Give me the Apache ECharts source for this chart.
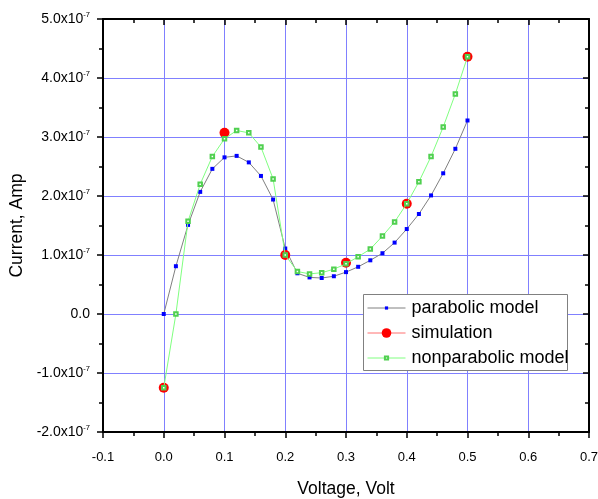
<!DOCTYPE html>
<html>
<head>
<meta charset="utf-8">
<script src="https://cdn.jsdelivr.net/npm/echarts@6/dist/echarts.min.js"></script>
<style>
html,body{margin:0;padding:0;background:#fff;}
#chart{width:598px;height:499px;}
</style>
</head>
<body>
<div id="chart"></div>
<script>
// Voltage (V) sample points of the model curves
const voltage = [0.00, 0.02, 0.04, 0.06, 0.08, 0.10, 0.12, 0.14, 0.16, 0.18, 0.20, 0.22, 0.24,
                 0.26, 0.28, 0.30, 0.32, 0.34, 0.36, 0.38, 0.40, 0.42, 0.44, 0.46, 0.48, 0.50];
// Currents in units of 1e-7 A
const parabolic = [0.00, 0.81, 1.51, 2.07, 2.46, 2.655, 2.68, 2.57, 2.34, 1.94, 1.11, 0.69, 0.62,
                   0.61, 0.64, 0.71, 0.80, 0.91, 1.03, 1.21, 1.44, 1.695, 2.01, 2.385, 2.80, 3.28];
const nonparabolic = [-1.25, 0.00, 1.57, 2.20, 2.67, 2.97, 3.11, 3.07, 2.83, 2.29, 1.00, 0.72, 0.68,
                      0.70, 0.76, 0.85, 0.97, 1.10, 1.32, 1.56, 1.87, 2.24, 2.67, 3.17, 3.73, 4.36];
const simVoltage = [0.0, 0.1, 0.2, 0.3, 0.4, 0.5];
const simulation = [-1.25, 3.07, 1.00, 0.87, 1.87, 4.36];
const currentExponent = -7;
const xTicks = [-0.1, 0.0, 0.1, 0.2, 0.3, 0.4, 0.5, 0.6, 0.7];
const yTicks = [-2, -1, 0, 1, 2, 3, 4, 5];

const FONT = "'Liberation Sans', Arial, sans-serif";
const pair = (xs, ys) => xs.map((x, i) => [x, ys[i]]);

const chart = echarts.init(document.getElementById('chart'), null, {renderer: 'canvas'});

const frameLine = {show: true, onZero: false, lineStyle: {color: '#000', width: 2}};
const gridLine = {show: true, lineStyle: {color: '#8080ff', width: 1}};
const tickStyle = {color: '#000', width: 1.5};

const option = {
  backgroundColor: '#fff',
  animation: false,
  grid: {left: 103, right: 9, top: 19, bottom: 67, containLabel: false, outerBoundsMode: 'none'},
  xAxis: [{
    type: 'value', min: xTicks[0], max: xTicks[xTicks.length - 1], interval: 0.1,
    position: 'bottom',
    axisLine: frameLine,
    axisTick: {show: true, inside: false, length: 6, lineStyle: tickStyle},
    minorTick: {show: true, splitNumber: 2, length: 4, lineStyle: tickStyle},
    splitLine: gridLine,
    axisLabel: {margin: 19, fontSize: 13, color: '#000', fontFamily: FONT,
      formatter: v => v.toFixed(1)},
    name: 'Voltage, Volt', nameLocation: 'middle', nameGap: 48,
    nameTextStyle: {fontSize: 17.5, color: '#000', fontFamily: FONT}
  }, {
    type: 'value', min: xTicks[0], max: xTicks[xTicks.length - 1], interval: 0.1,
    position: 'top',
    axisLine: frameLine,
    axisTick: {show: true, inside: true, length: 6, lineStyle: tickStyle},
    minorTick: {show: true, splitNumber: 2, length: 4, lineStyle: tickStyle},
    splitLine: {show: false},
    axisLabel: {show: false}
  }],
  yAxis: [{
    type: 'value', min: yTicks[0], max: yTicks[yTicks.length - 1], interval: 1,
    position: 'left',
    axisLine: frameLine,
    axisTick: {show: true, inside: false, length: 6, lineStyle: tickStyle},
    minorTick: {show: true, splitNumber: 2, length: 4, lineStyle: tickStyle},
    splitLine: gridLine,
    axisLabel: {
      margin: 13, color: '#000', fontFamily: FONT,
      formatter: v => v === 0 ? '{b|0.0}' : '{b|' + v.toFixed(1) + 'x10}{s|' + currentExponent + '}',
      rich: {
        b: {fontSize: 14, color: '#000', fontFamily: FONT},
        s: {fontSize: 7.5, color: '#000', fontFamily: FONT, padding: [0, 0, 9, 0]}
      }
    },
    name: 'Current, Amp', nameLocation: 'middle', nameGap: 77, nameRotate: 90,
    nameTextStyle: {fontSize: 17.5, color: '#000', fontFamily: FONT}
  }, {
    type: 'value', min: yTicks[0], max: yTicks[yTicks.length - 1], interval: 1,
    position: 'right',
    axisLine: frameLine,
    axisTick: {show: true, inside: true, length: 6, lineStyle: tickStyle},
    minorTick: {show: true, splitNumber: 2, length: 4, lineStyle: tickStyle},
    splitLine: {show: false},
    axisLabel: {show: false}
  }],
  graphic: [{
    type: 'rect', z: 50,
    shape: {x: 363.5, y: 294.5, width: 204, height: 76},
    style: {fill: '#fff', stroke: '#808080', lineWidth: 1}
  }],
  legend: [
    {
      z: 60, left: 367, top: 299, padding: 0, itemWidth: 38, itemHeight: 4, itemGap: 0,
      data: ['parabolic model'],
      textStyle: {fontSize: 18, color: '#000', fontFamily: FONT, padding: [0, 0, 0, 1]},
      lineStyle: {color: '#808080', width: 1}
    },
    {
      z: 60, left: 367, top: 324, padding: 0, itemWidth: 38, itemHeight: 12, itemGap: 0,
      data: ['simulation'],
      textStyle: {fontSize: 18, color: '#000', fontFamily: FONT, padding: [0, 0, 0, 1]},
      lineStyle: {color: '#ff7070', width: 1, opacity: 1}
    },
    {
      z: 60, left: 367, top: 349, padding: 0, itemWidth: 38, itemHeight: 4, itemGap: 0,
      data: ['nonparabolic model'],
      textStyle: {fontSize: 18, color: '#000', fontFamily: FONT, padding: [0, 0, 0, 1]},
      lineStyle: {color: '#80ff80', width: 1}
    }
  ],
  series: [
    {
      name: 'parabolic model', type: 'line', xAxisIndex: 0, yAxisIndex: 0,
      data: pair(voltage, parabolic),
      symbol: 'rect', symbolSize: 4,
      lineStyle: {color: '#808080', width: 1},
      itemStyle: {color: '#0000ff'},
      z: 3
    },
    {
      name: 'simulation', type: 'line', xAxisIndex: 0, yAxisIndex: 0,
      data: pair(simVoltage, simulation),
      symbol: 'circle', symbolSize: 10,
      lineStyle: {color: '#ff7070', width: 1, opacity: 0},
      itemStyle: {color: '#ff0000'},
      z: 4
    },
    {
      name: 'nonparabolic model', type: 'line', xAxisIndex: 0, yAxisIndex: 0,
      data: pair(voltage, nonparabolic),
      symbol: 'emptyRect', symbolSize: 3.5,
      lineStyle: {color: '#80ff80', width: 1},
      itemStyle: {color: '#50d050', borderWidth: 0.8},
      z: 5
    }
  ]
};
chart.setOption(option);
</script>
</body>
</html>
